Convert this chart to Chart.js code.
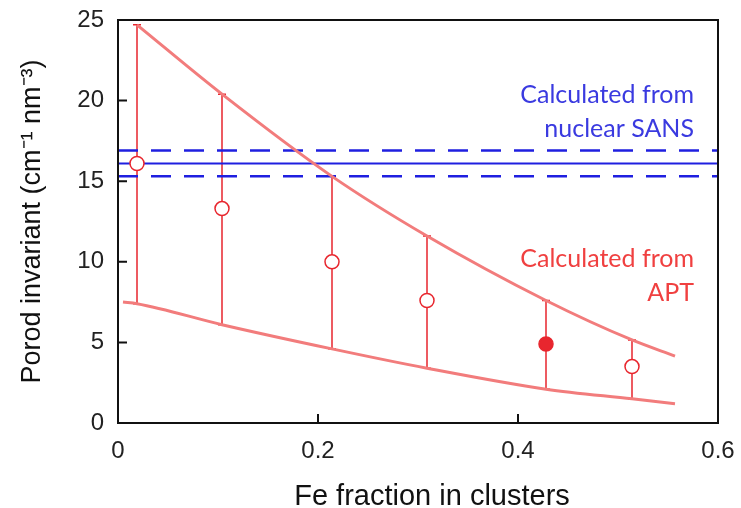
<!DOCTYPE html>
<html><head><meta charset="utf-8">
<script src="https://cdn.jsdelivr.net/npm/chart.js@4.4.1/dist/chart.umd.min.js"></script>
<style>html,body{margin:0;padding:0;background:#fff}#wrap{width:741px;height:508px}</style>
</head><body><div id="wrap"><canvas id="c" width="741" height="508"></canvas></div>
<script>
const feFraction = [0.019, 0.104, 0.214, 0.309, 0.428, 0.514];
const porodValues = [16.1, 13.3, 10.0, 7.6, 4.9, 3.5];
const errorHigh = [24.7, 20.4, 15.3, 11.6, 7.6, 5.15];
const errorLow = [7.4, 6.1, 4.6, 3.4, 2.1, 1.5];
const filledIndex = 4;
const upperCurveX = [0.019, 0.104, 0.214, 0.309, 0.428, 0.514, 0.557];
const upperCurveY = [24.7, 20.4, 15.3, 11.6, 7.6, 5.15, 4.15];
const lowerCurveX = [0.005, 0.019, 0.104, 0.214, 0.309, 0.428, 0.514, 0.557];
const lowerCurveY = [7.5, 7.4, 6.1, 4.6, 3.4, 2.1, 1.5, 1.2];
const sansRangeX = [0, 0.6];
const sansMean = 16.1, sansHigh = 16.9, sansLow = 15.3;
const xTicks = [0, 0.2, 0.4, 0.6];
const yTicks = [0, 5, 10, 15, 20, 25];
const xTitle = 'Fe fraction in clusters';
const yTitle = 'Porod invariant (cm⁻¹ nm⁻³)';

const RED = '#e8262e', CURVE = '#f27c7c', BLUE = '#1f1fe0';
const pts = (xs, ys) => xs.map((x, i) => ({x, y: ys[i]}));
const flat = (xs, v) => xs.map(x => ({x, y: v}));

const decor = {
  id: 'decor',
  beforeDatasetsDraw(chart) {
    const {ctx, scales: {x, y}} = chart;
    ctx.save();
    ctx.strokeStyle = RED; ctx.lineWidth = 1.5;
    feFraction.forEach((fx, i) => {
      const px = x.getPixelForValue(fx);
      const top = y.getPixelForValue(errorHigh[i]), bot = y.getPixelForValue(errorLow[i]);
      ctx.beginPath(); ctx.moveTo(px, top); ctx.lineTo(px, bot);
      ctx.moveTo(px - 4, top); ctx.lineTo(px + 4, top);
      ctx.moveTo(px - 4, bot); ctx.lineTo(px + 4, bot); ctx.stroke();
    });
    ctx.restore();
  },
  afterDraw(chart) {
    const {ctx, chartArea: a, scales: {x, y}} = chart;
    ctx.save();
    ctx.strokeStyle = '#111'; ctx.lineWidth = 2;
    ctx.strokeRect(a.left, a.top, a.right - a.left, a.bottom - a.top);
    ctx.beginPath();
    yTicks.forEach(v => { const py = y.getPixelForValue(v); ctx.moveTo(a.left, py); ctx.lineTo(a.left + 9, py); });
    xTicks.forEach(v => { const px = x.getPixelForValue(v); ctx.moveTo(px, a.bottom); ctx.lineTo(px, a.bottom - 9); });
    ctx.stroke();
    ctx.font = '25px Lato';
    ctx.textAlign = 'right'; ctx.textBaseline = 'middle';
    const rx = a.right - 24;
    ctx.fillStyle = '#3a3ae0';
    ctx.fillText('Calculated from', rx, 95);
    ctx.fillText('nuclear SANS', rx, 129);
    ctx.fillStyle = '#f04040';
    ctx.fillText('Calculated from', rx, 259);
    ctx.fillText('APT', rx, 293);
    // axis titles
    ctx.fillStyle = '#111';
    ctx.textAlign = 'center'; ctx.textBaseline = 'alphabetic';
    ctx.font = '29px Liberation Sans';
    ctx.fillText(xTitle, 432, 505);
    ctx.translate(40, (a.top + a.bottom) / 2);
    ctx.rotate(-Math.PI / 2);
    ctx.font = '27px Liberation Sans';
    ctx.fillText(yTitle, 0, 0);
    ctx.restore();
  }
};

new Chart(document.getElementById('c'), {
  type: 'line',
  data: {
    datasets: [
      {data: pts(feFraction, porodValues), showLine: false, order: 0,
       pointRadius: 7, pointHoverRadius: 7, pointBorderWidth: 1.5, pointBorderColor: RED,
       pointBackgroundColor: feFraction.map((_, i) => i === filledIndex ? RED : '#fff')},
      {data: pts(upperCurveX, upperCurveY), borderColor: CURVE, borderWidth: 3, pointRadius: 0, cubicInterpolationMode: 'monotone', order: 1},
      {data: pts(lowerCurveX, lowerCurveY), borderColor: CURVE, borderWidth: 3, pointRadius: 0, cubicInterpolationMode: 'monotone', order: 1},
      {data: flat(sansRangeX, sansHigh), borderColor: BLUE, borderWidth: 2.5, borderDash: [20, 13], pointRadius: 0, order: 2},
      {data: flat(sansRangeX, sansMean), borderColor: BLUE, borderWidth: 2, pointRadius: 0, order: 2},
      {data: flat(sansRangeX, sansLow), borderColor: BLUE, borderWidth: 2.5, borderDash: [20, 13], pointRadius: 0, order: 2}
    ]
  },
  options: {
    responsive: false, animation: false,
    layout: {padding: {top: 20, right: 23, left: 0, bottom: 0}},
    plugins: {legend: {display: false}, tooltip: {enabled: false}},
    scales: {
      x: {type: 'linear', min: 0, max: 0.6,
          afterFit: s => { s.height = 85; s.paddingLeft = 0; s.paddingRight = 0; },
          afterBuildTicks: s => { s.ticks = xTicks.map(v => ({value: v})); },
          grid: {display: false, drawTicks: false},
          border: {display: false},
          ticks: {padding: 14, color: '#222', font: {family: 'Liberation Sans', size: 24}, callback: v => v === 0 ? '0' : String(v)}},
      y: {min: 0, max: 25,
          afterFit: s => { s.width = 118; s.paddingTop = 0; s.paddingBottom = 0; },
          afterBuildTicks: s => { s.ticks = yTicks.map(v => ({value: v})); },
          grid: {display: false, drawTicks: false},
          border: {display: false},
          ticks: {padding: 14, color: '#222', font: {family: 'Liberation Sans', size: 24}}}
    }
  },
  plugins: [decor]
});
</script></body></html>
